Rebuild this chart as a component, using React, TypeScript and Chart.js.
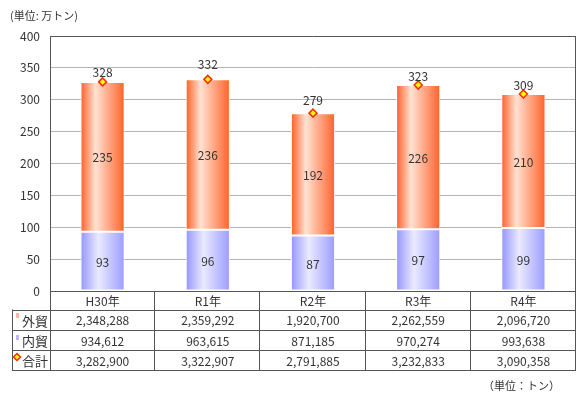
import React, { useEffect, useRef } from 'react';
import { Chart, registerables } from 'chart.js';

Chart.register(...registerables);

const categories = ['H30年', 'R1年', 'R2年', 'R3年', 'R4年'];
const domestic = [93, 96, 87, 97, 99];
const foreign = [235, 236, 192, 226, 210];
const total = [328, 332, 279, 323, 309];
const foreignTons = ['2,348,288', '2,359,292', '1,920,700', '2,262,559', '2,096,720'];
const domesticTons = ['934,612', '963,615', '871,185', '970,274', '993,638'];
const totalTons = ['3,282,900', '3,322,907', '2,791,885', '3,232,833', '3,090,358'];
const rowLabels = ['外貿', '内貿', '合計'];
const yMax = 400;
const yStep = 50;

// style: vertical gap (px) between total marker and its label, per category
const totalLabelGap = [9, 15, 13, 9, 9];

const FONT = "'Noto Sans CJK JP', 'DejaVu Sans', sans-serif";
const TEXT = '#333333';
const LINE = '#555555';

const orangeStops: [number, string][] = [
  [0, '#ff6630'],
  [0.33, '#ffe2d2'],
  [1, '#ff6630'],
];
const blueStops: [number, string][] = [
  [0, '#9999ff'],
  [0.4, '#eaeaff'],
  [1, '#9f9fff'],
];

function barGradient(context: any, stops: [number, string][]) {
  const chart = context.chart;
  const xs = chart.scales && chart.scales.x;
  if (!xs || context.dataIndex === undefined || !chart.chartArea) return stops[0][1];
  const c = xs.getPixelForValue(context.dataIndex);
  const half = 21;
  const g = chart.ctx.createLinearGradient(c - half, 0, c + half, 0);
  stops.forEach(([o, col]) => g.addColorStop(o, col));
  return g;
}

function drawDiamond(ctx: CanvasRenderingContext2D, x: number, y: number, r: number) {
  ctx.save();
  ctx.beginPath();
  ctx.moveTo(x, y - r);
  ctx.lineTo(x + r, y);
  ctx.lineTo(x, y + r);
  ctx.lineTo(x - r, y);
  ctx.closePath();
  ctx.fillStyle = '#ffff00';
  ctx.fill();
  ctx.lineWidth = 1.5;
  ctx.strokeStyle = '#ff2a00';
  ctx.stroke();
  ctx.restore();
}

const overlayPlugin = {
  id: 'overlay',
  afterDatasetsDraw(chart: any) {
    const ctx: CanvasRenderingContext2D = chart.ctx;
    const area = chart.chartArea;
    ctx.save();
    ctx.strokeStyle = LINE;
    ctx.lineWidth = 1;
    ctx.beginPath();
    ctx.moveTo(Math.round(area.right) - 0.5, area.top);
    ctx.lineTo(Math.round(area.right) - 0.5, area.bottom);
    ctx.stroke();

    ctx.fillStyle = TEXT;
    ctx.font = `12px ${FONT}`;
    ctx.textAlign = 'center';
    ctx.textBaseline = 'middle';
    const metaD = chart.getDatasetMeta(0);
    const metaF = chart.getDatasetMeta(1);
    const metaT = chart.getDatasetMeta(2);
    metaD.data.forEach((el: any, i: number) => {
      const p = el.getProps(['x', 'y', 'base'], true);
      ctx.fillText(String(domestic[i]), p.x, (p.y + p.base) / 2 + 1);
    });
    metaF.data.forEach((el: any, i: number) => {
      const p = el.getProps(['x', 'y', 'base'], true);
      ctx.fillText(String(foreign[i]), p.x, (p.y + p.base) / 2 + 1);
    });
    metaT.data.forEach((el: any, i: number) => {
      const p = el.getProps(['x', 'y'], true);
      ctx.fillText(String(total[i]), p.x, p.y - totalLabelGap[i]);
    });
    ctx.restore();
  },
  afterDraw(chart: any) {
    const ctx: CanvasRenderingContext2D = chart.ctx;
    const area = chart.chartArea;
    const xs = chart.scales.x;
    const n = categories.length;
    const colW = (area.right - area.left) / n;
    const L = 12;
    const x0 = area.left;
    const x1 = area.right;
    const rows = [area.bottom, 309.5, 330, 350, 370];
    ctx.save();
    ctx.strokeStyle = LINE;
    ctx.lineWidth = 1;
    const hline = (y: number, a: number, b: number) => {
      const yy = Math.round(y) + 0.5;
      ctx.beginPath();
      ctx.moveTo(a, yy);
      ctx.lineTo(b, yy);
      ctx.stroke();
    };
    const vline = (x: number, a: number, b: number) => {
      const xx = Math.round(x) - 0.5;
      ctx.beginPath();
      ctx.moveTo(xx, a);
      ctx.lineTo(xx, b);
      ctx.stroke();
    };
    hline(rows[0] - 0.5, x0, x1);
    for (let r = 1; r < rows.length; r++) hline(rows[r], L, x1);
    vline(L + 1, rows[1], rows[4] + 1);
    for (let c = 0; c <= n; c++) vline(x0 + c * colW + (c === 0 ? 1 : 0), rows[0], rows[4] + 1);

    ctx.fillStyle = TEXT;
    ctx.textBaseline = 'middle';
    ctx.textAlign = 'center';
    ctx.font = `12px ${FONT}`;
    categories.forEach((cat, i) => {
      const cx = xs.getPixelForValue(i);
      ctx.fillText(cat, cx, (rows[0] + rows[1]) / 2 + 1);
    });
    const tables = [foreignTons, domesticTons, totalTons];
    tables.forEach((vals, r) => {
      const cy = (rows[r + 1] + rows[r + 2]) / 2 + 1;
      vals.forEach((v, i) => {
        ctx.fillText(v, xs.getPixelForValue(i), cy);
      });
    });
    ctx.textAlign = 'left';
    ctx.font = `13px ${FONT}`;
    rowLabels.forEach((lab, r) => {
      const cy = (rows[r + 1] + rows[r + 2]) / 2 + 1;
      ctx.fillText(lab, 22, cy);
    });
    ctx.fillStyle = '#ffb4a0';
    ctx.fillRect(16, 313, 3, 5);
    ctx.fillStyle = '#b8b8ff';
    ctx.fillRect(16, 335, 3, 5);
    drawDiamond(ctx, 17, 357, 3.5);

    ctx.fillStyle = TEXT;
    ctx.font = `11px ${FONT}`;
    ctx.textAlign = 'left';
    ctx.fillText('(単位: 万トン)', 10, 16);
    ctx.textAlign = 'right';
    ctx.fillText('（単位：トン）', 560, 386);
    ctx.restore();
  },
};

export default function App() {
  const ref = useRef<HTMLCanvasElement | null>(null);
  useEffect(() => {
    if (!ref.current) return;
    const chart = new Chart(ref.current, {
      type: 'bar',
      data: {
        labels: categories,
        datasets: [
          {
            label: '内貿',
            data: domestic,
            stack: 'bars',
            backgroundColor: (c: any) => barGradient(c, blueStops),
            borderColor: '#ffffff',
            borderWidth: 1,
            borderSkipped: false,
            categoryPercentage: 1,
            barPercentage: 0.42,
            order: 2,
          },
          {
            label: '外貿',
            data: foreign,
            stack: 'bars',
            backgroundColor: (c: any) => barGradient(c, orangeStops),
            borderColor: '#ffffff',
            borderWidth: 1,
            borderSkipped: false,
            categoryPercentage: 1,
            barPercentage: 0.42,
            order: 2,
          },
          {
            type: 'line',
            label: '合計',
            data: total,
            stack: 'total',
            showLine: false,
            pointStyle: 'rectRot',
            pointRadius: 4,
            pointBackgroundColor: '#ffff00',
            pointBorderColor: '#ff2a00',
            pointBorderWidth: 1.5,
            order: 1,
          } as any,
        ],
      },
      options: {
        animation: false,
        responsive: false,
        maintainAspectRatio: false,
        events: [],
        layout: { padding: { left: 0, top: 36, right: 8, bottom: 103 } },
        plugins: { legend: { display: false }, tooltip: { enabled: false } },
        scales: {
          x: {
            display: false,
            stacked: true,
            offset: true,
          },
          y: {
            stacked: true,
            min: 0,
            max: yMax,
            afterFit: (s: any) => {
              s.width = 50;
            },
            ticks: {
              stepSize: yStep,
              color: TEXT,
              font: { family: FONT, size: 12 },
              padding: 10,
            },
            grid: {
              drawTicks: false,
              color: (c: any) => (c.tick && c.tick.value === yMax ? LINE : '#b4b4b4'),
              lineWidth: 1,
            },
            border: { display: true, color: LINE, width: 1 },
          },
        },
      },
      plugins: [overlayPlugin],
    } as any);
    return () => chart.destroy();
  }, []);
  return (
    <div style={{ position: 'absolute', left: 0, top: 0, width: 584, height: 394, background: '#fff' }}>
      <canvas ref={ref} width={584} height={394} style={{ width: 584, height: 394, display: 'block' }} />
    </div>
  );
}
